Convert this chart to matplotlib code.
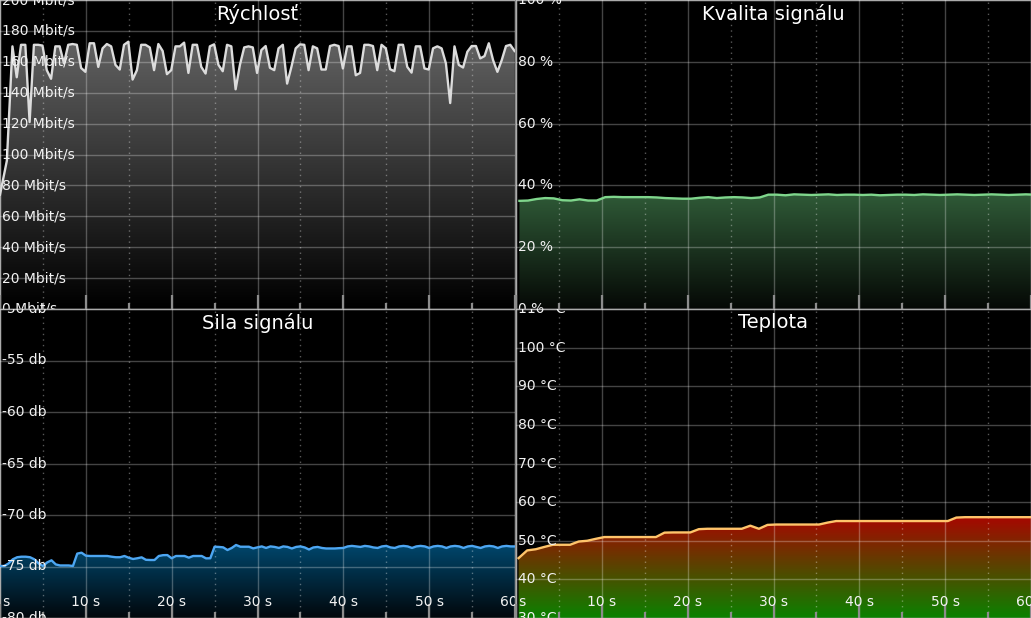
import matplotlib.pyplot as plt
import numpy as np
from matplotlib.colors import LinearSegmentedColormap
from matplotlib.patches import Polygon
from matplotlib.ticker import MultipleLocator
import matplotlib.transforms as mtransforms

# Rýchlosť (Mbit/s), sampled every 0.5 s after a slow start
speed_t = np.concatenate([[0.0, 0.8], 1.45 + 0.5 * np.arange(118)])
speed = [74, 96,
         170, 150, 171, 171, 121, 171, 171, 170.5, 154.6, 149,
         170, 170, 159, 171, 171.5, 171, 156, 153.5, 172, 172,
         156.7, 168.7, 171.5, 170, 158, 155, 171, 173, 148.5, 154.6,
         171, 171, 169.3, 154.6, 171.5, 167, 152, 154.6, 170, 170,
         172.4, 152.8, 171, 171, 156.7, 152.4, 170, 171.3, 158, 153.9,
         171, 170, 142.2, 158, 169.3, 170, 169.3, 152.8, 167.6, 170.2,
         156.1, 154.6, 168.7, 171, 145.9, 156.7, 168.7, 171.3, 171, 154.6,
         170, 168.7, 155, 155, 170.2, 171, 170.2, 155.7, 170, 170,
         151.3, 152.8, 171, 171, 170.2, 154.6, 171, 168.7, 155.2, 153.9,
         171, 171, 156.7, 153, 170, 170, 155.7, 155, 168.7, 170,
         168.7, 159, 133.3, 170, 158, 156.3, 166.5, 170.2, 170.2, 162.2,
         163.7, 172, 161, 153.5, 161, 170.2, 171, 167]

# Kvalita signálu (%), every 1 s
quality = [35.0, 35.1, 35.6, 35.9, 35.8, 35.2, 35.1, 35.5, 35.1, 35.1,
           36.2, 36.3, 36.2, 36.2, 36.2, 36.2, 36.1, 35.9, 35.8, 35.7,
           35.7, 36.0, 36.2, 35.9, 36.1, 36.2, 36.1, 35.9, 36.1, 37.0,
           37.0, 36.8, 37.1, 37.0, 36.9, 37.0, 37.1, 36.9, 37.0, 37.0,
           36.9, 37.0, 36.8, 36.9, 37.0, 37.0, 36.9, 37.1, 37.0, 36.9,
           37.0, 37.1, 37.0, 36.9, 37.0, 37.1, 37.0, 36.9, 37.0, 37.1, 37.0]
quality_t = 0.4 + np.arange(len(quality))

# Sila signálu (db), every 0.5 s
signal = [-74.95, -74.95, -74.7, -74.3, -74.1, -74.05, -74.05, -74.1, -74.3, -74.7,
          -74.95, -74.6, -74.4, -74.8, -74.9, -74.9, -74.9, -74.95, -73.75, -73.66,
          -73.95, -73.98, -73.98, -73.98, -73.98, -73.98, -74.05, -74.1, -74.1, -73.98,
          -74.15, -74.27, -74.2, -74.11, -74.35, -74.37, -74.37, -73.98, -73.9, -73.89,
          -74.2, -73.98, -73.98, -73.98, -74.14, -73.98, -73.98, -73.98, -74.21, -74.2,
          -73.08, -73.1, -73.14, -73.4, -73.2, -72.91, -73.08, -73.08, -73.08, -73.24,
          -73.14, -73.05, -73.2, -73.05, -73.1, -73.2, -73.05, -73.1, -73.25, -73.1,
          -73.05, -73.15, -73.35, -73.15, -73.1, -73.2, -73.25, -73.25, -73.25, -73.22,
          -73.2, -73.05, -73.0, -73.05, -73.1, -73.0, -73.05, -73.15, -73.2, -73.05,
          -73.0, -73.15, -73.2, -73.05, -73.0, -73.05, -73.2, -73.05, -73.0, -73.05,
          -73.2, -73.05, -73.0, -73.05, -73.2, -73.05, -73.0, -73.05, -73.2, -73.05,
          -73.0, -73.1, -73.2, -73.05, -73.0, -73.05, -73.2, -73.05, -73.0, -73.05,
          -73.05]
signal_t = 0.5 * np.arange(len(signal))

# Teplota (°C), every 1 s
temp = [45.5, 47.5, 47.8, 48.4, 48.96, 48.96, 48.96, 49.8, 50.0, 50.5,
        50.96, 50.96, 50.96, 50.96, 50.96, 50.96, 50.96,
        52.1, 52.15, 52.15, 52.15,
        53.0, 53.1, 53.1, 53.1, 53.1, 53.1,
        53.9, 53.1, 54.1,
        54.2, 54.2, 54.2, 54.2, 54.2, 54.2,
        54.7,
        55.1, 55.1, 55.1, 55.1, 55.1, 55.1, 55.1, 55.1, 55.1, 55.1, 55.1, 55.1, 55.1, 55.1,
        56.0,
        56.1, 56.1, 56.1, 56.1, 56.1, 56.1, 56.1, 56.1, 56.1]
temp_t = 0.3 + np.arange(len(temp))

x_ticks = [0, 10, 20, 30, 40, 50, 60]
x_labels = ["0 s", "10 s", "20 s", "30 s", "40 s", "50 s", "60 s"]

# top colour of each fill gradient (data value where it reaches full colour)
grad_top = {"Rýchlosť": 200, "Kvalita signálu": 37.2,
            "Sila signálu": -72.9, "Teplota": 56.2}

fig = plt.figure(figsize=(10.31, 6.18), dpi=100, facecolor="black")
w = 515 / 1031
axes = {
    "speed": fig.add_axes([0, 0.5, w, 0.5]),
    "quality": fig.add_axes([516 / 1031, 0.5, 1 - 516 / 1031, 0.5]),
    "signal": fig.add_axes([0, 0, w, 0.5]),
    "temp": fig.add_axes([516 / 1031, 0, 1 - 516 / 1031, 0.5]),
}


def panel(ax, t, v, ylim, yticks, fmt, title, line_color, grad, xlabels):
    ax.set_facecolor("black")
    ymin, ymax = ylim
    # gradient image clipped to the area under the curve
    poly = ax.fill_between(t, v, ymin, facecolor="none", edgecolor="none")
    verts = np.vstack([p.vertices for p in poly.get_paths()])
    clip = Polygon(verts, closed=True, facecolor="none", edgecolor="none",
                   transform=ax.transData)
    ax.add_patch(clip)
    cmap = LinearSegmentedColormap.from_list("g", grad)
    im = ax.imshow(np.linspace(0, 1, 256).reshape(-1, 1), cmap=cmap, aspect="auto",
                   origin="lower", extent=[0, 60, ymin, grad_top[title]], zorder=1)
    im.set_clip_path(clip)
    ax.plot(t, v, color=line_color, lw=1.7, zorder=3)

    ax.set_xlim(0, 60)
    ax.set_ylim(ymin, ymax)
    ax.set_xticks(x_ticks)
    ax.xaxis.set_minor_locator(MultipleLocator(5))
    ax.set_yticks(yticks)
    ax.set_axisbelow(False)
    ax.grid(which="major", color="white", alpha=0.27, lw=1)
    ax.grid(which="minor", axis="x", color="white", alpha=0.35, lw=1, ls=(0, (1, 3)))
    ax.tick_params(axis="x", which="major", direction="in", length=10, width=1.6,
                   color="#8c8c8c", labelbottom=False, top=False)
    ax.tick_params(axis="x", which="minor", direction="in", length=4, width=1.6,
                   color="#8c8c8c", top=False)
    ax.tick_params(axis="y", length=0, labelleft=False)
    for s in ax.spines.values():
        s.set_color("#8c8c8c")
        s.set_linewidth(1)

    trans = mtransforms.blended_transform_factory(ax.transAxes, ax.transData)
    for yv in yticks:
        ax.text(0.004, yv, fmt.format(yv), transform=trans, color="#f2f2f2",
                fontsize=10, ha="left", va="center", clip_on=True, zorder=4)
    if xlabels:
        trans_x = mtransforms.blended_transform_factory(ax.transData, ax.transAxes)
        for xv, lab in zip(x_ticks, x_labels):
            ax.text(xv, 0.052, lab, transform=trans_x, color="#f2f2f2", fontsize=10,
                    ha="center", va="center", clip_on=True, zorder=4)
    ax.text(0.5, 0.956, title, transform=ax.transAxes, color="white", fontsize=14,
            ha="center", va="center", zorder=4)


panel(axes["speed"], speed_t, speed, (0, 200), list(range(0, 201, 20)), "{} Mbit/s",
      "Rýchlosť", "#dcdcdc", ["#000000", "#707070"], False)
panel(axes["quality"], quality_t, quality, (0, 100), list(range(0, 101, 20)), "{} %",
      "Kvalita signálu", "#7fd68c", ["#050805", "#2f5a37"], False)
panel(axes["signal"], signal_t, signal, (-80, -50), list(range(-80, -49, 5)), "{} db",
      "Sila signálu", "#4da6f2", ["#02070b", "#00476d"], True)
panel(axes["temp"], temp_t, temp, (30, 110), list(range(30, 111, 10)), "{} °C",
      "Teplota", "#ffc46a", ["#0a8200", "#a80600"], True)

plt.savefig("out.png", dpi=100, facecolor="black")
